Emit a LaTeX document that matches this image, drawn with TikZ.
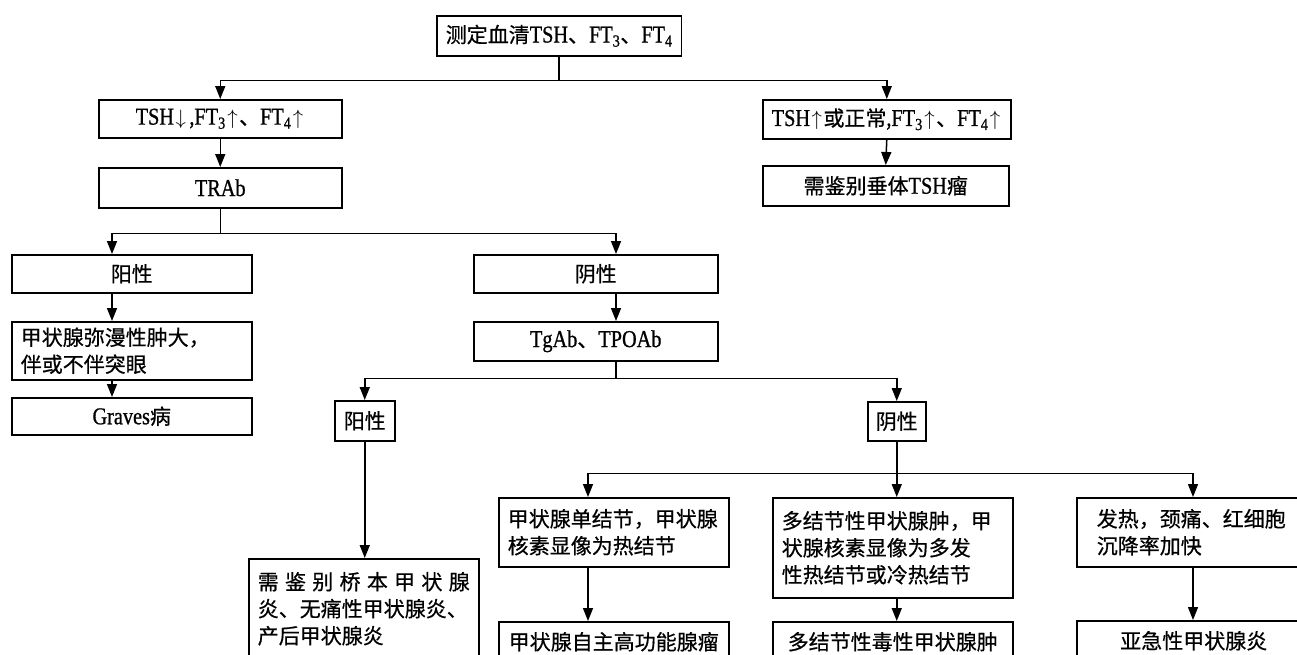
\documentclass[tikz,border=0pt]{standalone}
\usepackage{fontspec}
\setmainfont{Noto Sans CJK SC}[FakeBold=0.6]
\newfontfamily\lat{Liberation Serif}[Scale=1.15,FakeStretch=0.84,FakeBold=0.8]
\usetikzlibrary{arrows.meta}
\tikzset{
  box/.style={draw, line width=1.5pt, inner xsep=9pt, inner ysep=0pt, anchor=north west,
    font=\fontsize{21}{27}\selectfont},
  lbox/.style={box, align=left},
  arr/.style={line width=1.5pt, -{Triangle[length=13pt,width=10pt]}},
}
\newcommand{\ftx}[1]{{\lat FT\textsubscript{#1}}}
\newcommand{\la}[1]{{\lat #1}}
\newcommand{\up}{\kern1.5pt$\uparrow$\kern1.5pt}
\newcommand{\dn}{\kern1.5pt$\downarrow$\kern1.5pt}
\begin{document}
\begin{tikzpicture}[x=1pt,y=-1pt]
\useasboundingbox (0,0) rectangle (1297,654);
\clip (0,0) rectangle (1297,654);
% nodes
\node[box, minimum width=242pt, minimum height=40pt] (top) at (436,15) {测定血清\la{TSH}、\ftx{3}、\ftx{4}};
\node[box, minimum width=243pt, minimum height=38pt] (tshL) at (98,99) {\la{TSH}\dn\la{\kern2pt,}\ftx{3}\up、\ftx{4}\up};
\node[box, minimum width=246pt, minimum height=39pt] (tshR) at (762,99) {\la{TSH}\up 或正常\la{,}\ftx{3}\up、\ftx{4}\up};
\node[box, minimum width=243pt, minimum height=40pt] (trab) at (98,167) {\la{TRAb}};
\node[box, minimum width=246pt, minimum height=40pt] (pit) at (762,165) {需鉴别垂体\la{TSH}瘤};
\node[box, minimum width=240pt, minimum height=38pt] (posA) at (11,254) {阳性};
\node[box, minimum width=244pt, minimum height=38pt] (negA) at (473,254) {阴性};
\node[lbox, text width=222pt, minimum height=58pt] (diffuse) at (11,321) {甲状腺弥漫性肿大，\\伴或不伴突眼};
\node[box, minimum width=240pt, minimum height=37pt] (graves) at (11,397) {\la{Graves}病};
\node[box, minimum width=244pt, minimum height=39pt] (tg) at (473,321) {\la{TgAb}、\la{TPOAb}};
\node[box, minimum width=60pt, minimum height=40pt, inner xsep=4pt] (posB) at (334,400) {阳性};
\node[box, minimum width=58pt, minimum height=39pt, inner xsep=4pt] (negB) at (867,401) {阴性};
\node[lbox, text width=212pt, minimum height=100pt] (hashi) at (248,558)
  {\hbox to 212pt{需\hfill 鉴\hfill 别\hfill 桥\hfill 本\hfill 甲\hfill 状\hfill 腺}\\炎、无痛性甲状腺炎、\\产后甲状腺炎};
\node[lbox, text width=212pt, minimum height=69pt] (single) at (498,497) {甲状腺单结节，甲状腺\\核素显像为热结节};
\node[lbox, text width=222pt, minimum height=100pt] (multi) at (772,497) {多结节性甲状腺肿，甲\\状腺核素显像为多发\\性热结节或冷热结节};
\node[lbox, text width=194pt, inner xsep=20pt, minimum height=69pt] (fever) at (1076,497) {发热，颈痛、红细胞\\沉降率加快};
\node[box, minimum width=230pt, minimum height=40pt] (adenoma) at (498,621) {甲状腺自主高功能腺瘤};
\node[box, minimum width=240pt, minimum height=40pt] (mntg) at (772,621) {多结节性毒性甲状腺肿};
\node[box, minimum width=234pt, minimum height=40pt] (subacute) at (1076,620) {亚急性甲状腺炎};
% x positions of off-centre connectors
\coordinate (xA) at (112,0);
\coordinate (xN) at (616,0);
\coordinate (xS) at (588,0);
\coordinate (xF) at (1193,0);
% connectors
\draw[arr] (top.south) -- ++(0,24) -| (tshL.north);
\draw[arr] (top.south) -- ++(0,24) -| (tshR.north);
\draw[arr] (tshL.south) -- (trab.north);
\draw[arr] (tshR.south) -- (pit.north);
\draw[arr] (trab.south) -- ++(0,25) -| (posA.north -| xA);
\draw[arr] (trab.south) -- ++(0,25) -| (negA.north -| xN);
\draw[arr] (posA.south -| xA) -- (diffuse.north -| xA);
\draw[arr] (diffuse.south -| xA) -- (graves.north -| xA);
\draw[arr] (negA.south -| xN) -- (tg.north -| xN);
\draw[arr] (tg.south -| xN) -- ++(0,17) -| (posB.north);
\draw[arr] (tg.south -| xN) -- ++(0,17) -| (negB.north);
\draw[arr] (posB.south) -- (posB.south |- hashi.north);
\draw[arr] (negB.south) -- (negB.south |- multi.north);
\draw[arr] (negB.south) -- ++(0,32) -| (single.north -| xS);
\draw[arr] (negB.south) -- ++(0,32) -| (fever.north -| xF);
\draw[arr] (single.south -| xS) -- (adenoma.north -| xS);
\draw[arr] (multi.south -| negB.south) -- (mntg.north -| negB.south);
\draw[arr] (fever.south -| xF) -- (subacute.north -| xF);
\end{tikzpicture}
\end{document}
